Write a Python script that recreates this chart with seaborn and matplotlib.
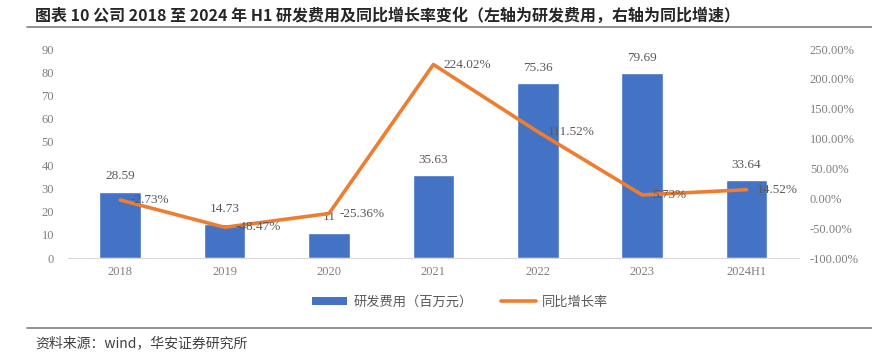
import matplotlib
matplotlib.use("Agg")
import matplotlib.pyplot as plt
import numpy as np
import pandas as pd
import seaborn as sns
from matplotlib.lines import Line2D
from matplotlib.patches import Patch

# data
years = ["2018", "2019", "2020", "2021", "2022", "2023", "2024H1"]
rd_cost = [28.59, 14.73, 11, 35.63, 75.36, 79.69, 33.64]
growth = [-2.73, -48.47, -25.36, 224.02, 111.52, 5.73, 14.52]
rd_labels = ["28.59", "14.73", "11", "35.63", "75.36", "79.69", "33.64"]

df = pd.DataFrame({"年份": years, "研发费用": rd_cost, "同比": growth})

sns.set_style("white")
plt.rcParams["font.family"] = ["Noto Sans CJK SC", "DejaVu Sans"]
serif = ["Liberation Serif", "DejaVu Serif"]
grey = "#595959"
tick_grey = "#7F7F7F"
blue = "#4472C4"
orange = "#ED7D31"

fig = plt.figure(figsize=(8.72, 3.63), dpi=100)
ax = fig.add_axes([0.078, 0.289, 0.838, 0.576])
sns.barplot(data=df, x="年份", y="研发费用", color=blue, width=0.4,
            saturation=1, ax=ax)
ax.set_ylim(0, 90)
ax.set_yticks(np.arange(0, 91, 10))
ax.set_xlabel("")
ax.set_ylabel("")
for s in ["top", "right", "left"]:
    ax.spines[s].set_visible(False)
ax.spines["bottom"].set_color("#D9D9D9")
ax.tick_params(length=0, colors=tick_grey, labelsize=9, pad=6)
ax.yaxis.set_tick_params(pad=10)
for lab in ax.get_xticklabels() + ax.get_yticklabels():
    lab.set_family(serif)
for i, v in enumerate(rd_cost):
    ax.text(i, v + 4, rd_labels[i], ha="center", va="bottom", fontsize=9.5,
            color=grey, family=serif)

ax2 = ax.twinx()
sns.lineplot(x=np.arange(len(years)), y=growth, color=orange, linewidth=2.6,
             ax=ax2)
ax2.set_ylim(-100, 250)
ax2.set_yticks(np.arange(-100, 251, 50))
ax2.set_yticklabels([f"{v:.2f}%" for v in np.arange(-100, 251, 50)])
for s in ["top", "right", "left", "bottom"]:
    ax2.spines[s].set_visible(False)
ax2.tick_params(length=0, colors=tick_grey, labelsize=9, pad=8)
for lab in ax2.get_yticklabels():
    lab.set_family(serif)
for i, g in enumerate(growth):
    ax2.text(i + 0.1, g, f"{g:.2f}%", ha="left", va="center", fontsize=9.5,
             color=grey, family=serif)
ax.set_xlim(-0.5, len(years) - 0.5)

handles = [Patch(facecolor=blue, edgecolor="none"),
           Line2D([], [], color=orange, linewidth=2.6)]
fig.legend(handles, ["研发费用（百万元）", "同比增长率"], loc="center",
           bbox_to_anchor=(0.528, 0.168), ncol=2, frameon=False, fontsize=9.5,
           labelcolor=grey, handlelength=2.6, handleheight=0.5,
           columnspacing=2.2, handletextpad=0.5)

fig.text(0.04, 0.958, "图表 10 公司 2018 至 2024 年 H1 研发费用及同比增长率变化（左轴为研发费用，右轴为同比增速）",
         fontsize=11.5, fontweight="bold", va="center", ha="left")
fig.add_artist(Line2D([0.031, 1.0], [0.926, 0.926], color="#7F7F7F",
                      linewidth=1.2, transform=fig.transFigure))
fig.add_artist(Line2D([0.031, 1.0], [0.097, 0.097], color="#7F7F7F",
                      linewidth=1.2, transform=fig.transFigure))
fig.text(0.04, 0.055, "资料来源：wind，华安证券研究所", fontsize=10,
         color="#404040", va="center", ha="left")

fig.savefig("out.png", dpi=100)
